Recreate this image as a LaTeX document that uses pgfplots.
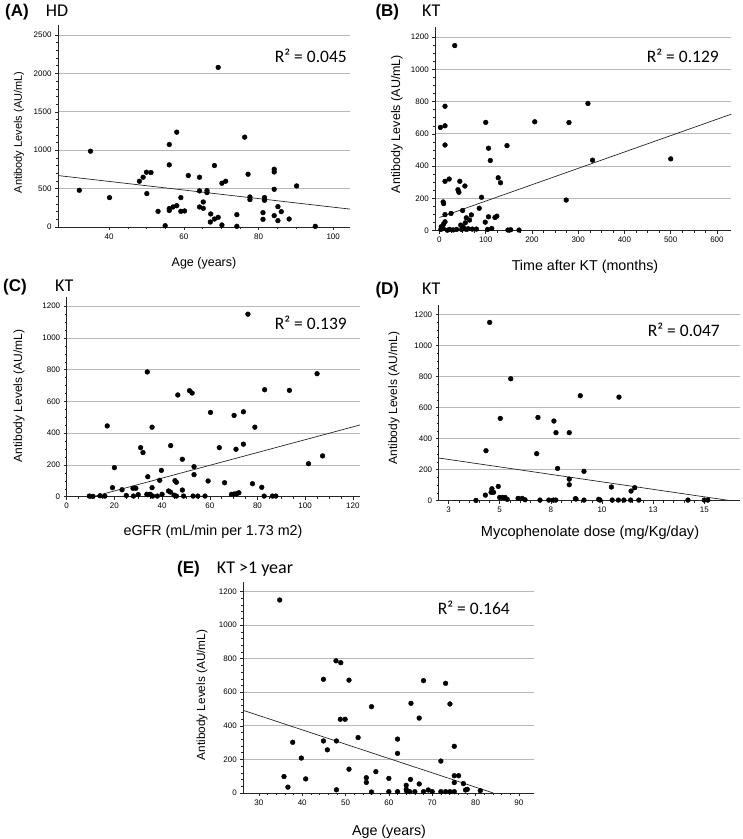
\documentclass[border=0pt]{standalone}
\usepackage{pgfplots}
\pgfplotsset{compat=1.18}
\usepackage{fontspec}
\setmainfont{Liberation Sans}
\newfontfamily\calfont{Carlito}

\pgfplotsset{
  panel/.style={
    scale only axis,
    axis x line*=bottom, axis y line*=left,
    axis line style={black!85, line width=0.6pt, -},
    enlargelimits=false,
    clip=false,
    ymajorgrids, grid style={black!28, line width=0.9pt},
    tick align=outside,
    major tick length=3pt, minor tick length=2pt,
    tick style={black!85, line width=0.5pt},
    ticklabel style={font=\fontsize{8}{9}\selectfont},
    /pgf/number format/assume math mode=true,
    /pgf/number format/set thousands separator={},
    ymin=0,
    anchor=south west,
  },
  dots/.style={only marks, mark=*, mark size=2.4pt, black},
  fit/.style={black!85, line width=0.7pt, no marks},
}

\begin{document}
\begin{tikzpicture}
\path[use as bounding box] (0,0) rectangle (743pt,-839pt);

% ---------------- (A) HD
\begin{axis}[panel, at={(58pt,-227pt)}, width=292pt, height=202pt,
  xmin=26.3, xmax=104.5, ymax=2630,
  xtick={40,60,80,100}, ytick={0,500,1000,1500,2000,2500},
  minor x tick num=3, minor y tick num=4]
\addplot[dots] coordinates {
(32.0,478) (35.0,987) (40.1,383) (48.1,596) (49.1,648) (50.0,713) (51.2,709)
(50.1,435) (53.1,204) (55.0,17) (56.1,1074) (56.1,809) (56.1,240) (56.1,215)
(57.1,261) (58.1,278) (58.1,1235) (59.2,383) (59.2,204) (60.2,209) (61.2,670)
(64.2,648) (64.2,470) (64.2,261) (65.2,243) (65.2,326) (66.2,474) (66.2,448)
(67.2,170) (67.1,65) (68.2,800) (68.2,104) (69.2,126) (69.2,2078) (70.2,570)
(71.2,596) (70.2,26) (74.2,161) (74.2,9) (76.3,1170) (77.2,687) (77.7,391)
(77.7,357) (81.6,383) (81.6,348) (81.2,187) (81.2,100) (84.2,752) (84.2,717)
(84.2,491) (84.2,148) (85.2,265) (85.2,83) (86.1,200) (88.2,104) (90.2,535)
(95.2,9)
};
\addplot[fit] coordinates {(26.3,670) (104.5,233)};
\end{axis}

% ---------------- (B) KT time
\begin{axis}[panel, at={(435.3pt,-230.7pt)}, width=296pt, height=203.7pt,
  xmin=-9, xmax=631, ymax=1262,
  xtick={0,100,...,600}, ytick={0,200,...,1200},
  minor x tick num=3, minor y tick num=3]
\addplot[dots] coordinates {
(33,1147) (12,771) (2,640) (12,650) (12,531) (100,671) (206,675) (106,511)
(110,435) (146,527) (12,306) (21,320) (44,306) (40,254) (42,238) (55,277)
(8,178) (9,168) (91,207) (127,328) (132,297) (12,100) (25,107) (50,125)
(86,139) (69,98) (58,80) (65,66) (56,49) (99,53) (106,86) (120,82) (124,90)
(113,14) (12,55) (9,41) (8,14) (3,8) (4,25) (22,8) (37,8) (50,25) (48,8)
(58,8) (71,10) (80,10) (104,8) (148,4) (154,6) (172,4) (46,35) (52,18)
(62,12) (30,5) (17,3) (274,190) (280,670) (321,788) (331,437) (500,445)
};
\addplot[fit] coordinates {(0,82) (631,722)};
\end{axis}

% ---------------- (C) KT eGFR
\begin{axis}[panel, at={(66.7pt,-496.7pt)}, width=293.3pt, height=200pt,
  xmin=0, xmax=123, ymax=1260,
  xtick={0,20,...,120}, ytick={0,200,...,1200},
  minor x tick num=3, minor y tick num=3]
\addplot[dots] coordinates {
(17,446) (35.8,438) (60.3,531) (64,309) (31,309) (32,278) (43.6,322) (20,183)
(48.5,236) (34,126) (39.7,166) (53.4,189) (53.4,139) (39,103) (45.4,101)
(46,91) (48.5,42) (59.3,99) (19.2,57) (23.2,44) (27.8,53) (29,53) (35.8,57)
(42.7,36) (43.5,29) (25,8) (9.5,4) (11,2) (14,6) (16,4) (28,4) (30,13)
(34,13) (35,15) (36,4) (38,4) (40,15) (45,10) (46,4) (49,4) (53,4) (55,4)
(58,4) (33.6,15) (70.2,512) (74.1,535) (78.9,438) (71,299) (74.1,331)
(101.4,208) (107.3,257) (66.2,88) (77.9,82) (81.8,59) (69.1,15) (70.2,17)
(71.3,19) (72.2,25) (82.8,4) (86.3,4) (87.7,4) (76,1150) (33.8,786)
(105,775) (46.6,641) (51.5,668) (52.6,653) (83,674) (93.4,670)
};
\addplot[fit] coordinates {(11,0) (123,452)};
\end{axis}

% ---------------- (D) KT mycophenolate
\begin{axis}[panel, at={(438.7pt,-500.7pt)}, width=301pt, height=195.7pt,
  xmin=2.02, xmax=16.73, ymax=1260,
  xtick={2.5,5,7.5,10,12.5,15}, xticklabels={3,5,8,10,13,15},
  ytick={0,200,...,1200},
  minor x tick num=4, minor y tick num=3]
\addplot[dots] coordinates {
(4.51,1148) (5.54,785) (5.03,530) (4.33,322) (6.87,536) (6.81,303) (7.65,513)
(7.75,438) (7.83,208) (8.4,438) (8.4,139) (8.4,103) (8.94,676) (10.83,667)
(9.12,189) (10.46,88) (11.42,62) (11.6,84) (4.3,36) (4.58,54) (4.62,77)
(4.7,54) (4.93,92) (3.84,2) (5.0,21) (5.13,21) (5.26,21) (5.37,9) (5.9,15)
(6.1,15) (6.24,6) (6.97,4) (7.4,4) (7.62,4) (7.74,4) (8.7,13) (8.73,11)
(9.12,4) (9.84,9) (9.9,4) (10.5,4) (10.8,4) (11.07,4) (11.4,4) (11.8,4)
(14.2,4) (15.0,4) (15.17,4)
};
\addplot[fit] coordinates {(2.02,275) (16.3,0)};
\end{axis}

% ---------------- (E) KT > 1 year
\begin{axis}[panel, at={(243.3pt,-793pt)}, width=290.7pt, height=211.3pt,
  xmin=26.4, xmax=93.5, ymax=1258,
  xtick={30,40,...,90}, ytick={0,200,...,1200},
  minor x tick num=4, minor y tick num=4]
\addplot[dots] coordinates {
(34.8,1149) (35.8,98) (36.7,35) (37.8,302) (39.8,208) (40.8,84) (44.9,677)
(44.9,310) (45.8,257) (47.8,787) (48.9,776) (48.8,439) (49.9,439) (47.9,310)
(47.9,19) (50.8,672) (50.8,142) (52.9,330) (54.8,91) (54.8,63) (56,514)
(56,6) (57,127) (60,87) (60,8) (62,321) (62,236) (62,8) (65.1,534) (65,81)
(64,46) (64,22) (64.1,12) (64.8,8) (66,8) (67,446) (67,54) (68,669) (68,8)
(69.1,18) (70,8) (72,190) (72,8) (73.1,653) (73.1,8) (74.1,530) (74.1,8)
(75.1,278) (75.1,103) (76.1,103) (75.1,62) (75.1,8) (77.2,56) (77.7,18)
(78.1,22) (81.1,14)
};
\addplot[fit] coordinates {(26.4,492) (84.1,0)};
\end{axis}

% ---------------- titles
\node[anchor=base west, font=\bfseries\fontsize{17}{20}\selectfont, inner sep=0] at (5pt,-16.7pt) {(A)};
\node[anchor=base west, font=\calfont\fontsize{18}{20}\selectfont, inner sep=0] at (45.7pt,-16.7pt) {HD};
\node[anchor=base west, font=\bfseries\fontsize{17}{20}\selectfont, inner sep=0] at (375.3pt,-16pt) {(B)};
\node[anchor=base west, font=\calfont\fontsize{18}{20}\selectfont, inner sep=0] at (422pt,-16pt) {KT};
\node[anchor=base west, font=\bfseries\fontsize{17}{20}\selectfont, inner sep=0] at (3pt,-291.7pt) {(C)};
\node[anchor=base west, font=\calfont\fontsize{18}{20}\selectfont, inner sep=0] at (55pt,-291.7pt) {KT};
\node[anchor=base west, font=\bfseries\fontsize{17}{20}\selectfont, inner sep=0] at (375.3pt,-294pt) {(D)};
\node[anchor=base west, font=\calfont\fontsize{18}{20}\selectfont, inner sep=0] at (422pt,-294pt) {KT};
\node[anchor=base west, font=\bfseries\fontsize{17}{20}\selectfont, inner sep=0] at (177pt,-573.3pt) {(E)};
\node[anchor=base west, font=\calfont\fontsize{18}{20}\selectfont, inner sep=0] at (216.7pt,-573.3pt) {KT >1 year};

% ---------------- R^2
\node[anchor=east, font=\calfont\fontsize{17.5}{20}\selectfont, inner sep=0] at (347pt,-55.5pt) {R² = 0.045};
\node[anchor=east, font=\calfont\fontsize{17.5}{20}\selectfont, inner sep=0] at (719pt,-56pt) {R² = 0.129};
\node[anchor=east, font=\calfont\fontsize{17.5}{20}\selectfont, inner sep=0] at (347pt,-322.5pt) {R² = 0.139};
\node[anchor=east, font=\calfont\fontsize{17.5}{20}\selectfont, inner sep=0] at (720pt,-329.7pt) {R² = 0.047};
\node[anchor=east, font=\calfont\fontsize{17.5}{20}\selectfont, inner sep=0] at (510pt,-607.5pt) {R² = 0.164};

% ---------------- axis labels
\node[font=\fontsize{12.5}{14}\selectfont] at (204pt,-263pt) {Age (years)};
\node[font=\fontsize{14.3}{16}\selectfont] at (585pt,-267pt) {Time after KT (months)};
\node[font=\fontsize{14.3}{16}\selectfont] at (213pt,-532pt) {eGFR (mL/min per 1.73 m2)};
\node[font=\fontsize{14.6}{16}\selectfont] at (590pt,-533pt) {Mycophenolate dose (mg/Kg/day)};
\node[font=\fontsize{14.3}{16}\selectfont] at (389pt,-832pt) {Age (years)};

\node[rotate=90, font=\fontsize{11}{12}\selectfont] at (19pt,-132.5pt) {Antibody Levels (AU/mL)};
\node[rotate=90, font=\fontsize{12.5}{14}\selectfont] at (397pt,-124pt) {Antibody Levels (AU/mL)};
\node[rotate=90, font=\fontsize{12}{14}\selectfont] at (19pt,-395.7pt) {Antibody Levels (AU/mL)};
\node[rotate=90, font=\fontsize{12}{14}\selectfont] at (394pt,-398pt) {Antibody Levels (AU/mL)};
\node[rotate=90, font=\fontsize{11.8}{14}\selectfont] at (202pt,-695pt) {Antibody Levels (AU/mL)};
\end{tikzpicture}
\end{document}
